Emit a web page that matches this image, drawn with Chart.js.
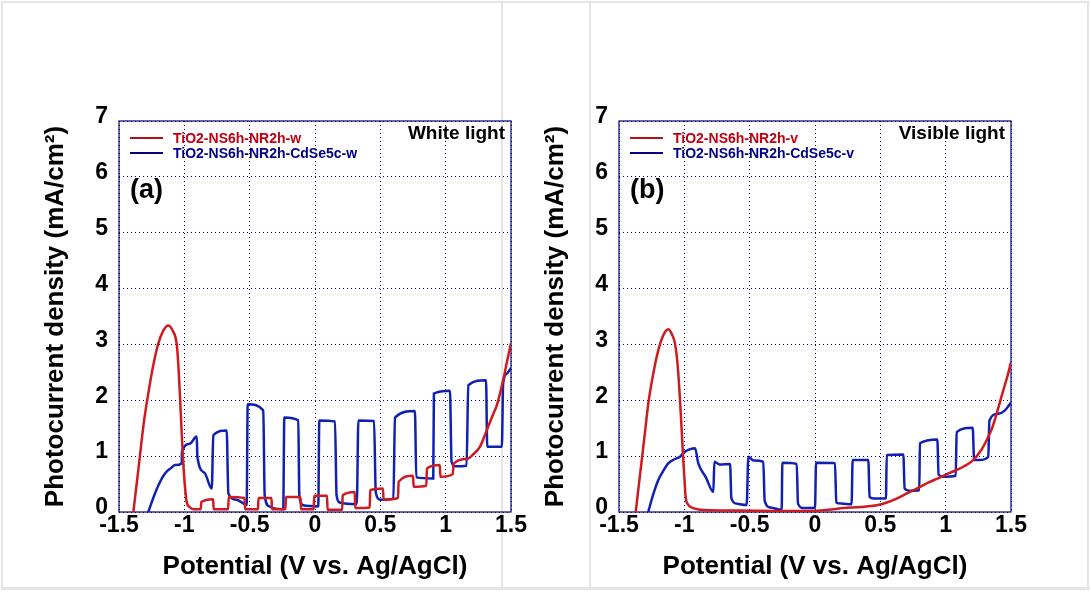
<!DOCTYPE html>
<html>
<head>
<meta charset="utf-8">
<script src="https://cdn.jsdelivr.net/npm/chart.js@4.4.0/dist/chart.umd.min.js"></script>
<style>
  html, body { margin: 0; padding: 0; background: #fff; }
  #page { position: relative; width: 1091px; height: 592px; overflow: hidden; }
  .rule { position: absolute; background: #e4e4e4; }
  canvas { position: absolute; left: 0; top: 0; }
</style>
</head>
<body>
<div id="page">
  <div class="rule" style="left:1px;top:1px;width:2px;height:589px"></div>
  <div class="rule" style="left:1px;top:1px;width:1089px;height:2px"></div>
  <div class="rule" style="left:1px;top:587px;width:1089px;height:3px"></div>
  <div class="rule" style="left:501px;top:1px;width:2px;height:589px"></div>
  <div class="rule" style="left:589px;top:1px;width:2px;height:589px"></div>
  <div class="rule" style="left:1087px;top:1px;width:2px;height:589px"></div>
  <canvas id="chartA" width="1091" height="592" style="width:1091px;height:592px"></canvas>
  <canvas id="chartB" width="1091" height="592" style="width:1091px;height:592px"></canvas>
</div>
<script>
// axis ticks
const potentialTicks = [-1.5, -1, -0.5, 0, 0.5, 1, 1.5];
const currentTicks = [0, 1, 2, 3, 4, 5, 6, 7];

// (a) white light
const labelsA = ["TiO2-NS6h-NR2h-w", "TiO2-NS6h-NR2h-CdSe5c-w"];
const potA_TiO2 = [-1.39, -1.35, -1.31, -1.276, -1.24, -1.2, -1.16, -1.123, -1.09, -1.058, -1.045, -1.033, -1.02, -1.008, -0.995, -0.982, -0.96, -0.93,
  -0.875, -0.87, -0.78, -0.775, -0.665, -0.66, -0.54, -0.535, -0.436, -0.432, -0.333, -0.329, -0.226, -0.222, -0.111, -0.107,
  -0.01, -0.006, 0.092, 0.096, 0.208, 0.212, 0.304, 0.308, 0.419, 0.423, 0.52, 0.525, 0.635, 0.64, 0.75, 0.755, 0.852, 0.857,
  0.955, 0.96, 1.055, 1.06, 1.16, 1.21, 1.263, 1.314, 1.365, 1.39, 1.44, 1.47, 1.5];
const curA_TiO2 = [0, 0.8, 1.6, 2.12, 2.6, 3.01, 3.25, 3.34, 3.25, 3.0, 2.6, 2.06, 1.4, 0.87, 0.45, 0.18, 0.09, 0.05,
  0.05, 0.18, 0.23, 0.05, 0.05, 0.27, 0.25, 0.05, 0.05, 0.25, 0.25, 0.05, 0.05, 0.27, 0.27, 0.05,
  0.05, 0.29, 0.29, 0.04, 0.04, 0.30, 0.36, 0.07, 0.08, 0.39, 0.42, 0.22, 0.25, 0.54, 0.65, 0.45, 0.47, 0.78,
  0.84, 0.63, 0.68, 0.86, 0.95, 1.03, 1.17, 1.46, 1.76, 1.9, 2.36, 2.7, 3.02];
const potA_CdSe = [-1.276, -1.23, -1.19, -1.148, -1.1, -1.071, -1.02, -1.018, -0.96, -0.905, -0.9, -0.845, -0.79, -0.778, -0.676,
  -0.663, -0.6, -0.523, -0.515, -0.396, -0.385, -0.35, -0.32, -0.243, -0.235, -0.128, -0.12, -0.09, 0.025, 0.033, 0.153,
  0.165, 0.19, 0.32, 0.332, 0.452, 0.465, 0.5, 0.6, 0.612, 0.765, 0.775, 0.905, 0.91, 1.033, 1.045, 1.07, 1.16, 1.173, 1.309,
  1.318, 1.43, 1.44, 1.47, 1.5];
const curA_CdSe = [0, 0.3, 0.52, 0.69, 0.79, 0.84, 0.87, 1.08, 1.22, 1.35, 0.99, 0.7, 0.42, 1.375, 1.46,
  0.33, 0.22, 0.125, 1.93, 1.82, 0.3, 0.1, 0.07, 0.05, 1.69, 1.64, 0.3, 0.12, 0.1, 1.64, 1.62,
  0.3, 0.17, 0.14, 1.64, 1.63, 0.35, 0.22, 0.24, 1.69, 1.81, 0.62, 0.6, 2.12, 2.17, 0.9, 0.82, 0.83, 2.27, 2.36,
  1.17, 1.17, 2.3, 2.48, 2.58];

// (b) visible light
const labelsB = ["TiO2-NS6h-NR2h-v", "TiO2-NS6h-NR2h-CdSe5c-v"];
const potB_TiO2 = [-1.372, -1.33, -1.3, -1.276, -1.24, -1.2, -1.16, -1.123, -1.095, -1.071, -1.05, -1.033, -1.02, -1.008, -0.998,
  -0.99, -0.97, -0.944, -0.9, -0.842, -0.6, -0.3, -0.04, 0.1, 0.217, 0.35, 0.472, 0.55, 0.625, 0.7, 0.778, 0.87, 0.957,
  1.03, 1.11, 1.21, 1.27, 1.314, 1.355, 1.39, 1.441, 1.475, 1.5];
const curB_TiO2 = [0, 0.85, 1.45, 1.94, 2.45, 2.89, 3.17, 3.27, 3.18, 3.01, 2.6, 2.0, 1.45, 0.93, 0.55,
  0.27, 0.13, 0.08, 0.05, 0.036, 0.025, 0.02, 0.02, 0.04, 0.07, 0.09, 0.12, 0.17, 0.24, 0.33, 0.42, 0.53, 0.62,
  0.7, 0.78, 0.93, 1.1, 1.29, 1.5, 1.76, 2.18, 2.45, 2.68];
const potB_CdSe = [-1.276, -1.24, -1.2, -1.16, -1.123, -1.08, -1.033, -0.995, -0.96, -0.918, -0.893, -0.835, -0.778, -0.77, -0.73,
  -0.65, -0.64, -0.6, -0.523, -0.51, -0.47, -0.396, -0.385, -0.34, -0.255, -0.25, -0.14, -0.13, -0.09, 0.0, 0.008, 0.153,
  0.163, 0.2, 0.28, 0.288, 0.408, 0.418, 0.45, 0.543, 0.549, 0.676, 0.686, 0.72, 0.798, 0.803, 0.936, 0.946, 0.98, 1.077,
  1.084, 1.207, 1.218, 1.26, 1.326, 1.335, 1.403, 1.454, 1.5];
const curB_CdSe = [0, 0.3, 0.57, 0.74, 0.87, 0.94, 0.99, 1.08, 1.12, 1.14, 0.87, 0.62, 0.36, 0.9, 0.85,
  0.86, 0.25, 0.15, 0.125, 0.99, 0.92, 0.9, 0.2, 0.08, 0.04, 0.88, 0.86, 0.15, 0.07, 0.07, 0.88, 0.875,
  0.17, 0.15, 0.14, 0.93, 0.93, 0.27, 0.24, 0.24, 1.02, 1.03, 0.42, 0.38, 0.39, 1.23, 1.3, 0.67, 0.63, 0.65,
  1.43, 1.51, 0.93, 0.93, 0.99, 1.64, 1.76, 1.82, 1.96];

const RED = "#cf1b20";
const BLUE = "#1020b4";
const NAVY = "#000080";
const FONT = "'Liberation Sans', Arial, sans-serif";

function pts(xs, ys) {
  return xs.map((x, i) => ({ x, y: ys[i] }));
}

// frame, legend, panel tag and light label
const panelDecor = {
  id: "panelDecor",
  beforeDatasetsDraw(chart) {
    const a = chart.chartArea, ctx = chart.ctx;
    ctx.save();
    ctx.strokeStyle = NAVY;
    ctx.lineWidth = 1.2;
    ctx.strokeRect(a.left, a.top, a.right - a.left, a.bottom - a.top);
    ctx.restore();
  },
  afterDatasetsDraw(chart, args, opts) {
    const a = chart.chartArea, ctx = chart.ctx;
    ctx.save();
    chart.data.datasets.forEach((ds, i) => {
      const y = a.top + 17 + i * 15;
      ctx.strokeStyle = opts.keyColors[i];
      ctx.lineWidth = 2;
      ctx.beginPath();
      ctx.moveTo(a.left + 11, y);
      ctx.lineTo(a.left + 44, y);
      ctx.stroke();
      ctx.fillStyle = opts.textColors[i];
      ctx.font = "bold 14px " + FONT;
      ctx.textAlign = "left";
      ctx.textBaseline = "middle";
      ctx.fillText(ds.label, a.left + 54, y + 1);
    });
    ctx.fillStyle = "#000";
    ctx.font = "bold 19px " + FONT;
    ctx.textAlign = "right";
    ctx.textBaseline = "middle";
    ctx.fillText(opts.light, a.right - 6, a.top + 13);
    ctx.font = "bold 27px " + FONT;
    ctx.textAlign = "left";
    ctx.fillText(opts.tag, a.left + 11, a.top + 70);
    ctx.restore();
  }
};

function makePanel(canvasId, padLeft, padRight, labels, series, tag, light) {
  const el = document.getElementById(canvasId);
  return new Chart(el, {
    type: "scatter",
    data: {
      datasets: series.map((s, i) => ({
        label: labels[i],
        data: s,
        showLine: true,
        borderColor: i === 0 ? RED : BLUE,
        borderWidth: 2.5,
        pointRadius: 0,
        cubicInterpolationMode: "monotone",
        fill: false
      }))
    },
    options: {
      responsive: false,
      animation: false,
      devicePixelRatio: 1,
      layout: { padding: { left: padLeft, right: padRight, top: 121, bottom: 0 } },
      plugins: {
        legend: { display: false },
        tooltip: { enabled: false },
        panelDecor: {
          tag, light,
          keyColors: ["#b01018", NAVY],
          textColors: ["#c00010", "#00008b"]
        }
      },
      scales: {
        x: {
          type: "linear",
          min: -1.5, max: 1.5,
          afterBuildTicks: s => { s.ticks = potentialTicks.map(v => ({ value: v })); },
          afterFit: s => { s.height = 80; },
          grid: { color: NAVY, lineWidth: 1, drawTicks: false },
          border: { display: false, dash: [1, 3] },
          ticks: {
            color: "#000",
            padding: 0,
            maxRotation: 0,
            autoSkip: false,
            callback: v => String(v),
            font: { family: FONT, size: 23, weight: "bold" }
          },
          title: {
            display: true,
            text: "Potential (V vs. Ag/AgCl)",
            color: "#000",
            padding: { top: 0, bottom: 10 },
            font: { family: FONT, size: 26, weight: "bold" }
          }
        },
        y: {
          type: "linear",
          min: 0, max: 7,
          afterBuildTicks: s => { s.ticks = currentTicks.map(v => ({ value: v })); },
          afterFit: s => { s.width = 119; },
          grid: { color: NAVY, lineWidth: 1, drawTicks: false },
          border: { display: false, dash: [1, 3] },
          ticks: {
            color: "#000",
            padding: 11,
            labelOffset: -4,
            autoSkip: false,
            callback: v => String(v),
            font: { family: FONT, size: 23, weight: "bold" }
          },
          title: {
            display: true,
            text: "Photocurrent density (mA/cm²)",
            color: "#000",
            padding: { top: 40, bottom: 0 },
            font: { family: FONT, size: 26, weight: "bold" }
          }
        }
      }
    },
    plugins: [panelDecor]
  });
}

makePanel("chartA", 0, 1091 - 511, labelsA,
  [pts(potA_TiO2, curA_TiO2), pts(potA_CdSe, curA_CdSe)], "(a)", "White light");
makePanel("chartB", 500, 1091 - 1011, labelsB,
  [pts(potB_TiO2, curB_TiO2), pts(potB_CdSe, curB_CdSe)], "(b)", "Visible light");
</script>
</body>
</html>
